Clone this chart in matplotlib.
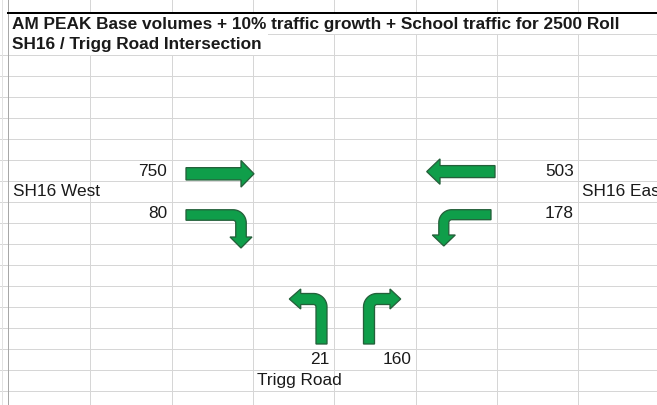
import numpy as np
import matplotlib
matplotlib.use("Agg")
import matplotlib.pyplot as plt
from matplotlib.patches import Polygon

# ---------------- data ----------------
title_lines = ["AM PEAK Base volumes + 10% traffic growth + School traffic for 2500 Roll",
               "SH16 / Trigg Road Intersection"]
approach_labels = ["SH16 West", "SH16 East", "Trigg Road"]
west_volumes = [750, 80]      # through, turn
east_volumes = [503, 178]     # through, turn
trigg_volumes = [21, 160]     # left, right

# ---------------- layout ----------------
W, H = 657, 405
DPI = 100
fig = plt.figure(figsize=(W / DPI, H / DPI), dpi=DPI)
ax = fig.add_axes([0, 0, 1, 1])
ax.set_xlim(0, W)
ax.set_ylim(H, 0)
ax.axis("off")

FONT = "Liberation Sans"
TXT = "#1a1a1a"
GRID = "#d6d6d6"
FILL = "#0F9E4A"
EDGE = "#24603A"
FS = 12.4

col_x = [9 + 81.3 * k for k in range(9)]
row_y = [13 + 21.0 * k for k in range(20)]

# gridlines
px = 72 / DPI
for y in row_y[2:]:
    ax.plot([0, W], [y, y], color=GRID, lw=px, zorder=1)
ax.plot([268, W], [row_y[1], row_y[1]], color=GRID, lw=px, zorder=1)
for x in col_x[1:]:
    ax.plot([x, x], [0, row_y[0]], color=GRID, lw=px, zorder=1)
    ax.plot([x, x], [row_y[2], H], color=GRID, lw=px, zorder=1)
    if x > 268:
        ax.plot([x, x], [row_y[1], row_y[2]], color=GRID, lw=px, zorder=1)
    if x > 618:
        ax.plot([x, x], [row_y[0], row_y[1]], color=GRID, lw=px, zorder=1)
ax.plot([2, 2], [0, H], color="#e2e2e2", lw=px, zorder=1)
ax.plot([8, 8], [0, H], color="#a8a8a8", lw=px, zorder=2)
ax.plot([8, W], [row_y[0], row_y[0]], color="black", lw=2 * px, zorder=3)

# titles
for i, t in enumerate(title_lines):
    ax.text(11.5, (row_y[i] + row_y[i + 1]) / 2 + 0.5, t, fontfamily=FONT, fontsize=FS,
            fontweight="bold", color=TXT, ha="left", va="center", zorder=5)


def cell_text(col, row, s, align):
    yc = (row_y[row] + row_y[row + 1]) / 2 + 0.5
    if align == "right":
        x = col_x[col + 1] - 4.5
    else:
        x = col_x[col] + 3.7
    ax.text(x, yc, s, fontfamily=FONT, fontsize=FS, color=TXT, ha=align, va="center",
            zorder=5, clip_on=True)


cell_text(1, 7, str(west_volumes[0]), "right")
cell_text(1, 9, str(west_volumes[1]), "right")
cell_text(0, 8, approach_labels[0], "left")
cell_text(6, 7, str(east_volumes[0]), "right")
cell_text(6, 9, str(east_volumes[1]), "right")
cell_text(7, 8, approach_labels[1], "left")
cell_text(3, 16, str(trigg_volumes[0]), "right")
cell_text(4, 16, str(trigg_volumes[1]), "right")
cell_text(3, 17, approach_labels[2], "left")


# ---------------- arrows ----------------
def unit(v):
    v = np.asarray(v, float)
    return v / np.linalg.norm(v)


def centerline(start, corner=None, end=None, R=8):
    start = np.asarray(start, float)
    if corner is None:
        end = np.asarray(end, float)
        return np.linspace(start, end, 10)
    corner = np.asarray(corner, float)
    end = np.asarray(end, float)
    u1 = unit(corner - start)
    u2 = unit(end - corner)
    p1 = corner - u1 * R
    p2 = corner + u2 * R
    c = corner - u1 * R + u2 * R
    th = np.linspace(0, np.pi / 2, 24)[1:-1]
    arc = c[None, :] + np.outer(np.cos(th), -u2 * R) + np.outer(np.sin(th), u1 * R)
    seg1 = np.linspace(start, p1, 8)
    seg2 = np.linspace(p2, end, 8)
    return np.vstack([seg1, arc, seg2])


def arrow_poly(pts, t, head_len, hw):
    d = np.gradient(pts, axis=0)
    d = d / np.linalg.norm(d, axis=1)[:, None]
    n = np.column_stack([-d[:, 1], d[:, 0]])
    left = pts + n * t / 2
    right = pts - n * t / 2
    e, de, ne = pts[-1], d[-1], n[-1]
    head = np.array([e + ne * hw, e + de * head_len, e - ne * hw])
    return np.vstack([left, head, right[::-1]])


arrow_specs = [
    dict(start=(186, 173.8), end=(241, 173.8), t=12.3, hl=13, hw=13.3),
    dict(start=(186, 215), corner=(241, 215), end=(241, 237), R=8, t=10.5, hl=11, hw=11),
    dict(start=(495, 171.6), end=(440, 171.6), t=12, hl=13.3, hw=12.7),
    dict(start=(491, 214.7), corner=(443.8, 214.7), end=(443.8, 235), R=8, t=10, hl=11, hw=11.5),
    dict(start=(321.5, 344), corner=(321.5, 299), end=(300.7, 299), R=8, t=11, hl=11.4, hw=10),
    dict(start=(369, 344), corner=(369, 299), end=(390, 299), R=8, t=11, hl=10.7, hw=10),
]
for s in arrow_specs:
    pts = centerline(s["start"], s.get("corner"), s["end"], s.get("R", 8))
    poly = arrow_poly(pts, s["t"], s["hl"], s["hw"])
    ax.add_patch(Polygon(poly, closed=True, facecolor=FILL, edgecolor=EDGE,
                         lw=1.3 * px, joinstyle="miter", zorder=4))

fig.savefig("out.png", dpi=DPI)
